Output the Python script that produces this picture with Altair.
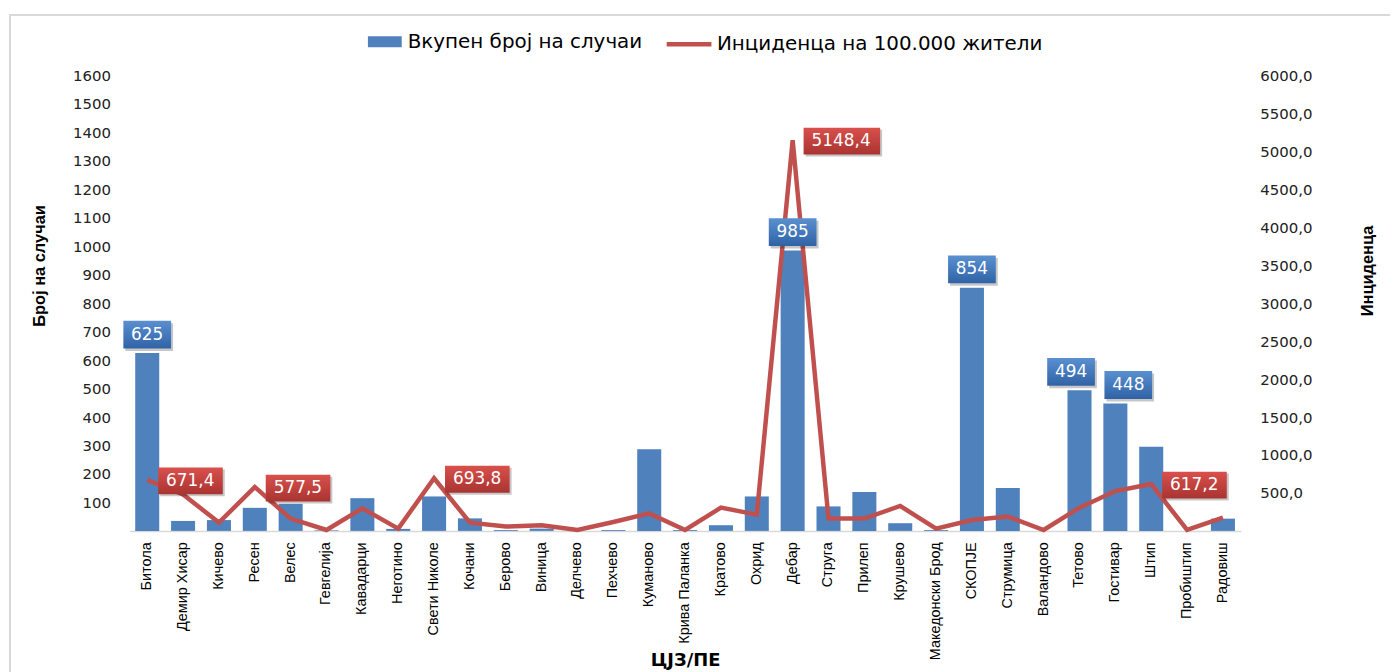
import altair as alt
import pandas as pd

regions = ["Битола", "Демир Хисар", "Кичево", "Ресен", "Велес", "Гевгелија", "Кавадарци",
           "Неготино", "Свети Николе", "Кочани", "Берово", "Виница", "Делчево", "Пехчево",
           "Куманово", "Крива Паланка", "Кратово", "Охрид", "Дебар", "Струга", "Прилеп",
           "Крушево", "Македонски Брод", "СКОПЈЕ", "Струмица", "Валандово", "Тетово",
           "Гостивар", "Штип", "Пробиштип", "Радовиш"]
cases = [625, 35, 38, 81, 95, 2, 115, 7, 121, 44, 3, 8, 0, 3, 287, 3, 20, 121, 985, 86, 137,
         27, 3, 854, 151, 0, 494, 448, 296, 0, 43]
incidence = [671.4, 480, 109, 577.5, 162, 12, 297, 30, 693.8, 109, 57, 74, 12, 117, 231, 12,
             306, 214, 5148.4, 162, 162, 328, 30, 143, 188, 12, 306, 525, 617.2, 12, 175]
cases_labelled = ["Битола", "Дебар", "СКОПЈЕ", "Тетово", "Гостивар"]
incidence_labelled = ["Битола", "Ресен", "Свети Николе", "Дебар", "Штип"]

bar_name = "Вкупен број на случаи"
line_name = "Инциденца на 100.000 жители"
left_ticks = [100, 200, 300, 400, 500, 600, 700, 800, 900, 1000, 1100, 1200, 1300, 1400, 1500, 1600]
right_ticks = [500, 1000, 1500, 2000, 2500, 3000, 3500, 4000, 4500, 5000, 5500, 6000]

df = pd.DataFrame({"region": regions, "cases": cases, "inc": incidence})
df["bar_series"] = bar_name
df["line_series"] = line_name
df["case_lab"] = df["region"].isin(cases_labelled)
df["inc_lab"] = df["region"].isin(incidence_labelled)

BLUE = "#4F81BD"
RED = "#C0504D"
W, H = 1118, 458
SANS = "Liberation Sans"
WIDE = "DejaVu Sans"

xenc = alt.X("region:N", sort=regions, title="ЦЈЗ/ПЕ",
             scale=alt.Scale(paddingInner=0.33, paddingOuter=0.165),
             axis=alt.Axis(labelAngle=270, labelAlign="right", labelBaseline="middle",
                           labelFont=SANS, labelFontSize=14.5,
                           labelColor="#000000", labelPadding=11, ticks=False,
                           domain=True, domainColor="#d9d9d9", domainWidth=1.5,
                           titleFont=WIDE, titleFontWeight="bold", titleFontSize=18,
                           titleColor="#000000", titleY=130, titleX=W / 2,
                           titleBaseline="middle"))

ly = alt.Scale(domain=[0, 1600], nice=False)
ry = alt.Scale(domain=[0, 6000], nice=False)

base = alt.Chart(df)

bars = base.mark_bar(color=BLUE).encode(
    x=xenc,
    y=alt.Y("cases:Q", scale=ly, title="Број на случаи",
            axis=alt.Axis(values=left_ticks, grid=False, ticks=False, domain=False,
                          format="d",
                          labelFont=WIDE, labelFontSize=15, labelColor="#222222",
                          labelPadding=19, titleFont=SANS,
                          titleFontWeight="bold", titleFontSize=16.5, titleColor="#000000",
                          titleAngle=270, titleX=-90, titleY=191, titleAlign="center",
                          titleBaseline="middle")),
    color=alt.Color("bar_series:N", scale=alt.Scale(domain=[bar_name], range=[BLUE]),
                    legend=alt.Legend(orient="none", legendX=240, legendY=-51, title=None,
                                      symbolType="M-1,-0.32H1V0.32H-1Z", symbolSize=1156,
                                      symbolStrokeWidth=0, labelFont=WIDE,
                                      labelFontSize=20, labelColor="#000000", labelLimit=0,
                                      labelOffset=6, padding=0)),
)

line = base.mark_line(strokeWidth=4.5).encode(
    x=alt.X("region:N", sort=regions),
    y=alt.Y("inc:Q", scale=ry, title="Инциденца",
            axis=alt.Axis(orient="right", values=right_ticks, grid=False, ticks=False,
                          domain=False, labelFont=WIDE, labelFontSize=15,
                          labelColor="#222222", labelPadding=19,
                          labelExpr="replace(format(datum.value, '.1f'), '.', ',')",
                          titleFont=SANS, titleFontWeight="bold",
                          titleFontSize=16.5, titleColor="#000000", titleAngle=270,
                          titleX=127, titleY=196, titleAlign="center",
                          titleBaseline="middle")),
    stroke=alt.Stroke("line_series:N", scale=alt.Scale(domain=[line_name], range=[RED]),
                      legend=alt.Legend(orient="none", legendX=538, legendY=-56.5, title=None,
                                        symbolType="M-1,0H1", symbolSize=2025,
                                        symbolStrokeWidth=4.5, labelFont=WIDE,
                                        labelFontSize=20, labelColor="#000000", labelLimit=0,
                                        labelOffset=3, padding=0)),
)

BOX_BLUE = "M-0.48,-0.28H0.48V0.28H-0.48Z"
blue_grad = alt.Gradient(gradient="linear", x1=0, x2=0, y1=0, y2=1,
                         stops=[alt.GradientStop(color="#5A8FD0", offset=0),
                                alt.GradientStop(color="#2F63A6", offset=1)])
red_grad = alt.Gradient(gradient="linear", x1=0, x2=0, y1=0, y2=1,
                        stops=[alt.GradientStop(color="#D9504C", offset=0),
                               alt.GradientStop(color="#A93431", offset=1)])

# horizontal nudges of crowded bar labels (pixels), as Excel moves them apart
blue_nudge = {"Тетово": -8.5, "Гостивар": 13}


def blue_label_layers(data_filter, nudge):
    lab = base.transform_filter("datum.case_lab").transform_filter(data_filter)
    enc = dict(x=alt.X("region:N", sort=regions), y=alt.Y("cases:Q", scale=ly, axis=None))
    shadow = lab.mark_point(shape=BOX_BLUE, size=10000, filled=True, color="#000000",
                            opacity=0.22, xOffset=nudge + 2, yOffset=-16).encode(**enc)
    box = lab.mark_point(shape=BOX_BLUE, size=10000, filled=True, fill=blue_grad,
                         opacity=1, strokeWidth=0, xOffset=nudge, yOffset=-18.5).encode(**enc)
    txt = lab.mark_text(color="white", font=WIDE, fontSize=17, dx=nudge, dy=-18.5,
                        baseline="middle", align="center").encode(
        text=alt.Text("cases:Q"), **enc)
    return [shadow, box, txt]


blue_layers = []
names = list(blue_nudge.keys())
rest = " && ".join([f"datum.region != '{n}'" for n in names])
blue_layers += blue_label_layers(rest, 0)
for n, v in blue_nudge.items():
    blue_layers += blue_label_layers(f"datum.region == '{n}'", v)

rlab = base.transform_filter("datum.inc_lab").transform_calculate(
    label="replace(format(datum.inc, '.1f'), '.', ',')"
).transform_calculate(
    box="'M0.22,-0.27H' + format((16 + 12 * length(datum.label)) / 50, '.3f') + 'V0.27H0.22Z'"
)
renc = dict(x=alt.X("region:N", sort=regions), y=alt.Y("inc:Q", scale=ry, axis=None))
rshadow = rlab.mark_point(size=10000, filled=True, color="#000000", opacity=0.22,
                          xOffset=2, yOffset=3).encode(
    shape=alt.Shape("box:N", scale=None, legend=None), **renc)
rbox = rlab.mark_point(size=10000, filled=True, fill=red_grad, opacity=1, strokeWidth=0,
                       yOffset=1).encode(
    shape=alt.Shape("box:N", scale=None, legend=None), **renc)
rtext = rlab.mark_text(color="white", font=WIDE, fontSize=17, dx=19, dy=1,
                       baseline="middle", align="left").encode(text="label:N", **renc)

frame = alt.Chart(pd.DataFrame({"f": [0]})).mark_rect(
    fillOpacity=0, stroke="#d9d9d9", strokeWidth=2).encode(
    x=alt.value(-120), x2=alt.value(1300), y=alt.value(-61), y2=alt.value(700))

chart = alt.layer(frame, bars, line, *blue_layers, rshadow, rbox, rtext).resolve_scale(
    y="independent", color="independent", stroke="independent", shape="independent"
).properties(
    width=W, height=H, autosize=alt.AutoSizeParams(type="none"),
    padding={"left": 122, "top": 66, "right": 150, "bottom": 140},
).configure_view(stroke=None)

chart.save("out.html", embed_options={"renderer": "svg", "actions": False})
